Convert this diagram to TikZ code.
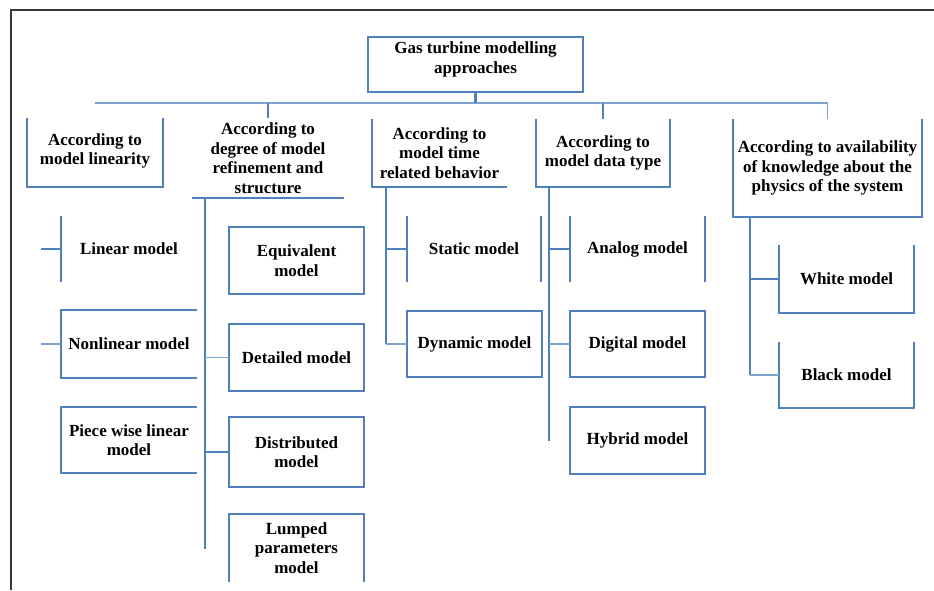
\documentclass[tikz,border=0pt]{standalone}
\usepackage{fontspec}
\setmainfont{Liberation Serif}
\definecolor{boxblue}{RGB}{79,129,189}
\definecolor{linkblue}{RGB}{128,164,208}
\definecolor{framegray}{RGB}{55,55,55}
\begin{document}
\begin{tikzpicture}[x=1pt,y=-1pt,
    lbl/.style={align=center, inner sep=0pt, outer sep=0pt,
        font=\fontsize{17}{19.5}\selectfont\bfseries},
    boxline/.style={boxblue, line width=2.2pt},
    linkline/.style={linkblue, line width=1.8pt}]
\useasboundingbox (0,0) rectangle (934,590);

% frame
\draw[framegray, line width=2pt] (10.5,590) -- (10.5,10) -- (934,10);

% root and first level
\node[lbl, minimum width=215, minimum height=45] (root) at (475.5,59.5) {Gas turbine modelling\\approaches};
\node[lbl, minimum width=136, minimum height=69] (mlin) at (95,151) {According to\\model linearity};
\node[lbl, minimum width=152, minimum height=80] (deg) at (268,158) {According to\\degree of model\\refinement and\\structure};
\node[lbl, minimum width=135, minimum height=68] (tim) at (439.5,153) {According to\\model time\\related behavior};
\node[lbl, minimum width=134, minimum height=68] (dat) at (603,153) {According to\\model data type};
\node[lbl, minimum width=189, minimum height=98] (know) at (827.5,168) {According to availability\\of knowledge about the\\physics of the system};

% second level
\node[lbl, minimum width=136, minimum height=66] (lin) at (129,249) {Linear model};
\node[lbl, minimum width=136, minimum height=68] (nlin) at (129,344) {Nonlinear model};
\node[lbl, minimum width=136, minimum height=66] (pw) at (129,440) {Piece wise linear\\model};
\node[lbl, minimum width=135, minimum height=67] (equ) at (296.5,260.5) {Equivalent\\model};
\node[lbl, minimum width=135, minimum height=67] (det) at (296.5,357.5) {Detailed model};
\node[lbl, minimum width=135, minimum height=70] (dis) at (296.5,452) {Distributed\\model};
\node[lbl, minimum width=135, minimum height=68] (lum) at (296.5,548) {Lumped\\parameters\\model};
\node[lbl, minimum width=134, minimum height=66] (sta) at (474,249) {Static model};
\node[lbl, minimum width=135, minimum height=66] (dyn) at (474.5,344) {Dynamic model};
\node[lbl, minimum width=135, minimum height=66] (ana) at (637.5,249) {Analog model};
\node[lbl, minimum width=135, minimum height=66] (dig) at (637.5,344) {Digital model};
\node[lbl, minimum width=135, minimum height=67] (hyb) at (637.5,440.5) {Hybrid model};
\node[lbl, minimum width=135, minimum height=68] (whi) at (846.5,279) {White model};
\node[lbl, minimum width=135, minimum height=66] (bla) at (846.5,375) {Black model};

% box outlines
\coordinate (rootS) at ([yshift=-10pt]root.south);
\draw[boxline] (root.north west) rectangle (rootS -| root.east);
\draw[boxline] ([yshift=-1.5pt]mlin.north west) -- ([yshift=-1.5pt]mlin.south west) -- ([yshift=-1.5pt]mlin.south east) -- ([yshift=-1.5pt]mlin.north east);
\draw[boxline] (deg.south west) -- (deg.south east);
\draw[boxline] (tim.north west) -- (tim.south west) -- (tim.south east);
\draw[boxline] (dat.north west) -- (dat.south west) -- (dat.south east) -- (dat.north east);
\draw[boxline] (know.north west) -- (know.south west) -- (know.south east) -- (know.north east);
\draw[boxline] (lin.north west) -- (lin.south west);
\draw[boxline] (nlin.north east) -- (nlin.north west) -- (nlin.south west) -- (nlin.south east);
\draw[boxline] (pw.north east) -- (pw.north west) -- (pw.south west) -- (pw.south east);
\draw[boxline] (equ.south west) rectangle (equ.north east);
\draw[boxline] (det.south west) rectangle (det.north east);
\draw[boxline] (dis.south west) rectangle (dis.north east);
\draw[boxline] (lum.south west) -- (lum.north west) -- (lum.north east) -- (lum.south east);
\draw[boxline] (sta.north west) -- (sta.south west);
\draw[boxline] (sta.north east) -- (sta.south east);
\draw[boxline] (dyn.south west) rectangle (dyn.north east);
\draw[boxline] (ana.north west) -- (ana.south west);
\draw[boxline] (ana.north east) -- (ana.south east);
\draw[boxline] (dig.south west) rectangle (dig.north east);
\draw[boxline] (hyb.south west) rectangle (hyb.north east);
\draw[boxline] (whi.north west) -- (whi.south west) -- (whi.south east) -- (whi.north east);
\draw[boxline] (bla.north west) -- (bla.south west) -- (bla.south east) -- (bla.north east);

% bus from the root
\coordinate (bus) at (95,103);
\draw[linkline] (bus) -- (bus -| know.north);
\draw[boxline] (rootS) -- (rootS |- bus);
\draw[boxline] (deg.north |- bus) -- (deg.north);
\draw[boxline] (dat.north |- bus) -- (dat.north);
\draw[linkline] (know.north |- bus) -- (know.north);

% trunks
\coordinate (degT) at ([xshift=13pt]deg.south west);
\coordinate (timT) at ([xshift=14pt]tim.south west);
\coordinate (datT) at ([xshift=13pt]dat.south west);
\coordinate (knowT) at ([xshift=17pt]know.south west);
\coordinate (linL) at ([xshift=-20pt]lin.west);
\coordinate (nlinL) at ([xshift=-20pt]nlin.west);

\draw[boxline] (degT) -- ([yshift=-1pt]degT |- lum.center);
\draw[linkline] (degT |- det.west) -- (det.west);
\draw[boxline] (degT |- dis.west) -- (dis.west);

\draw[boxline] (timT) -- (timT |- dyn.west);
\draw[boxline] (timT |- sta.west) -- (sta.west);
\draw[linkline] (timT |- dyn.west) -- (dyn.west);

\draw[boxline] (datT) -- (datT |- hyb.west);
\draw[boxline] (datT |- ana.west) -- (ana.west);
\draw[linkline] (datT |- dig.west) -- (dig.west);

\draw[boxline] (knowT) -- (knowT |- bla.west);
\draw[boxline] (knowT |- whi.west) -- (whi.west);
\draw[linkline] (knowT |- bla.west) -- (bla.west);

\draw[boxline] (linL) -- (lin.west);
\draw[linkline] (nlinL) -- (nlin.west);
\end{tikzpicture}
\end{document}
